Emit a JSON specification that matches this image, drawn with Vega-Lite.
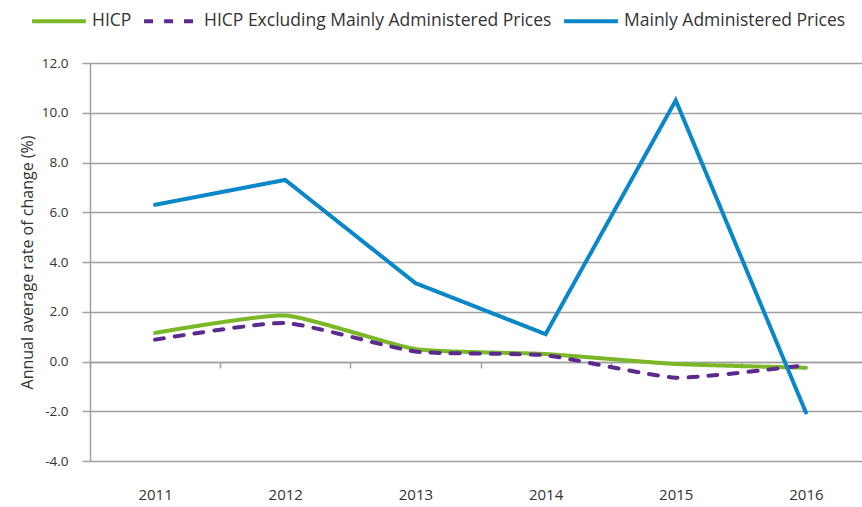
{
  "$schema": "https://vega.github.io/schema/vega-lite/v6.json",
  "width": 772,
  "height": 398,
  "autosize": {"type": "none"},
  "padding": {"left": 90, "top": 63, "right": 0, "bottom": 46},
  "background": "white",
  "config": {
    "view": {"stroke": null},
    "font": "Open Sans",
    "axis": {"labelFont": "Open Sans", "titleFont": "Open Sans", "labelColor": "#333333", "titleColor": "#333333"}
  },
  "data": {
    "values": [
      {"year": "2011", "series": "HICP", "value": 1.15},
      {"year": "2012", "series": "HICP", "value": 1.85},
      {"year": "2013", "series": "HICP", "value": 0.5},
      {"year": "2014", "series": "HICP", "value": 0.3},
      {"year": "2015", "series": "HICP", "value": -0.1},
      {"year": "2016", "series": "HICP", "value": -0.25},
      {"year": "2011", "series": "HICP Excluding Mainly Administered Prices", "value": 0.88},
      {"year": "2012", "series": "HICP Excluding Mainly Administered Prices", "value": 1.55},
      {"year": "2013", "series": "HICP Excluding Mainly Administered Prices", "value": 0.4},
      {"year": "2014", "series": "HICP Excluding Mainly Administered Prices", "value": 0.25},
      {"year": "2015", "series": "HICP Excluding Mainly Administered Prices", "value": -0.65},
      {"year": "2016", "series": "HICP Excluding Mainly Administered Prices", "value": -0.15},
      {"year": "2011", "series": "Mainly Administered Prices", "value": 6.3},
      {"year": "2012", "series": "Mainly Administered Prices", "value": 7.3},
      {"year": "2013", "series": "Mainly Administered Prices", "value": 3.15},
      {"year": "2014", "series": "Mainly Administered Prices", "value": 1.1},
      {"year": "2015", "series": "Mainly Administered Prices", "value": 10.5},
      {"year": "2016", "series": "Mainly Administered Prices", "value": -2.05}
    ]
  },
  "encoding": {
    "x": {
      "field": "year",
      "type": "ordinal",
      "scale": {"type": "band", "paddingInner": 0, "paddingOuter": 0, "range": [0, 781]},
      "axis": {
        "title": null,
        "offset": -99,
        "tickBand": "extent",
        "tickSize": 6,
        "tickColor": "#a0a0a0",
        "tickWidth": 1.5,
        "domainColor": "#a0a0a0",
        "domainWidth": 1.5,
        "labelPadding": 119,
        "labelFontSize": 15,
        "labelAngle": 0,
        "grid": false
      }
    },
    "y": {
      "field": "value",
      "type": "quantitative",
      "scale": {"domain": [-4, 12], "nice": false, "zero": false},
      "axis": {
        "title": "Annual average rate of change (%)",
        "values": [-4, -2, 0, 2, 4, 6, 8, 10, 12],
        "format": ".1f",
        "labelExpr": "replace(datum.label, '\u2212', '-')",
        "labelFontSize": 13.5,
        "titleFontSize": 16,
        "titleFontWeight": "normal",
        "titlePadding": 6,
        "tickSize": 8,
        "labelPadding": 14,
        "tickColor": "#a0a0a0",
        "tickWidth": 1.5,
        "domainColor": "#a0a0a0",
        "domainWidth": 1.5,
        "grid": true,
        "gridColor": "#a0a0a0",
        "gridWidth": 1.5
      }
    },
    "color": {
      "field": "series",
      "type": "nominal",
      "scale": {
        "domain": ["HICP", "HICP Excluding Mainly Administered Prices", "Mainly Administered Prices"],
        "range": ["#7ab828", "#5b2a8c", "#0a87c9"]
      },
      "legend": {
        "title": null,
        "orient": "none",
        "direction": "horizontal",
        "legendX": -60,
        "legendY": -71,
        "symbolType": "stroke",
        "symbolSize": 2900,
        "symbolStrokeWidth": 4,
        "labelFont": "Open Sans",
        "labelFontSize": 17.5,
        "labelColor": "#333333",
        "labelLimit": 0,
        "labelOffset": 4,
        "columnPadding": 4
      }
    },
    "strokeDash": {
      "field": "series",
      "type": "nominal",
      "scale": {
        "domain": ["HICP", "HICP Excluding Mainly Administered Prices", "Mainly Administered Prices"],
        "range": [[1, 0], [9, 11], [1, 0]]
      },
      "legend": null
    }
  },
  "layer": [
    {
      "transform": [{"filter": "datum.series !== 'Mainly Administered Prices'"}],
      "mark": {"type": "line", "interpolate": "cardinal", "tension": 0.5, "strokeWidth": 4, "strokeCap": "round"}
    },
    {
      "transform": [{"filter": "datum.series === 'Mainly Administered Prices'"}],
      "mark": {"type": "line", "interpolate": "linear", "strokeWidth": 4, "strokeCap": "round"}
    }
  ]
}
